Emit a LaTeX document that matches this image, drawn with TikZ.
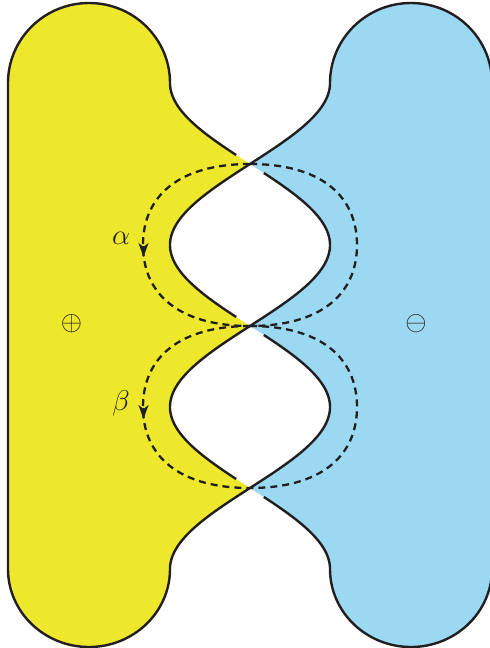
\documentclass[tikz,border=0pt]{standalone}
\usetikzlibrary{arrows.meta}
\definecolor{yel}{RGB}{238,232,44}
\definecolor{blu}{RGB}{155,217,242}
\definecolor{ink}{RGB}{35,31,32}
\begin{document}
\begin{tikzpicture}[x=1pt,y=-1pt,
  outline/.style={draw=ink,line width=2.4pt},
  loop/.style={draw=ink,line width=2.3pt,dash pattern=on 7pt off 5pt},
  arrowtip/.style={draw=ink,fill=ink,line width=1pt,-{Stealth[length=14pt,width=10pt,inset=4pt]}},
  lbl/.style={text=ink,font=\Huge,scale=1.15,inner sep=0pt},
  sign/.style={text=ink,font=\Huge,scale=1.1,inner sep=0pt}]
\useasboundingbox (0,0) rectangle (490,648);
% fills
\fill[yel] (8,83) arc[start angle=180,end angle=360,x radius=81,y radius=80]
  -- plot[domain=83:569,samples=487,variable=\t] ({250-80*abs(sin((\t-164)/0.9))},\t)
  arc[start angle=0,end angle=180,x radius=81,y radius=78] -- cycle;
\fill[blu] (330,83) arc[start angle=180,end angle=360,x radius=81,y radius=80]
  -- (492,569) arc[start angle=0,end angle=180,x radius=81,y radius=78]
  -- plot[domain=569:83,samples=487,variable=\t] ({250+80*abs(sin((\t-164)/0.9))},\t) -- cycle;
% outer outlines
\draw[outline] (170,569) arc[start angle=0,end angle=180,x radius=81,y radius=78]
  -- (8,83) arc[start angle=180,end angle=360,x radius=81,y radius=80];
\draw[outline] (330,83) arc[start angle=180,end angle=360,x radius=81,y radius=80]
  -- (492,569) arc[start angle=0,end angle=180,x radius=81,y radius=78];
% curve B (yellow top -> hole1 right -> hole2 left -> blue bottom)
\draw[outline] plot[domain=83:155,samples=73,variable=\t] ({250+80*sin((\t-164)/0.9)},\t);
\draw[outline] plot[domain=173:479,samples=200,variable=\t] ({250+80*sin((\t-164)/0.9)},\t);
\draw[outline] plot[domain=497:569,samples=73,variable=\t] ({250+80*sin((\t-164)/0.9)},\t);
% curve A (blue top -> hole1 left -> hole2 right -> yellow bottom)
\draw[outline] plot[domain=83:317,samples=200,variable=\t] ({250-80*sin((\t-164)/0.9)},\t);
\draw[outline] plot[domain=335:569,samples=200,variable=\t] ({250-80*sin((\t-164)/0.9)},\t);
% dashed loops
\coordinate (c1) at (250,164);
\coordinate (c2) at (250,326);
\coordinate (c3) at (250,488);
\draw[loop] (c1) .. controls (180,164) and (143,195) .. (143,245)
  .. controls (143,295) and (180,326) .. (c2)
  .. controls (320,326) and (357,295) .. (357,245)
  .. controls (357,195) and (320,164) .. (c1);
\draw[loop] (c2) .. controls (180,326) and (143,357) .. (143,407)
  .. controls (143,457) and (180,488) .. (c3)
  .. controls (320,488) and (357,457) .. (357,407)
  .. controls (357,357) and (320,326) .. (c2);
% arrows
\coordinate (a0) at (143.5,246);
\coordinate (a1) at (143.5,257);
\coordinate (b0) at (143.5,408);
\coordinate (b1) at (143.5,419);
\draw[arrowtip] (a0) -- (a1);
\draw[arrowtip] (b0) -- (b1);
% labels
\node[lbl] (alpha) at (121,238) {$\alpha$};
\node[lbl] (beta) at (121,403) {$\beta$};
\node[sign] (plus) at (71.5,324) {$\oplus$};
\node[sign] (minus) at (416,324) {$\ominus$};
\end{tikzpicture}
\end{document}
